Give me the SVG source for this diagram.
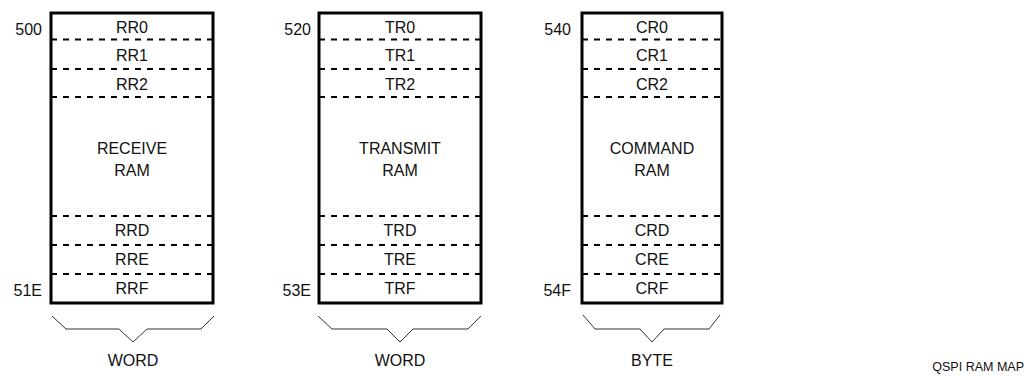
<svg xmlns="http://www.w3.org/2000/svg" width="1030" height="376" viewBox="0 0 1030 376">
<style>
text{font-family:"Liberation Sans",Arial,sans-serif;font-size:16px;fill:#111}
.c{text-anchor:middle}
.a{text-anchor:end}
.box{fill:#fff;stroke:#000;stroke-width:3}
.d{stroke:#000;stroke-width:2;stroke-dasharray:6 6;fill:none}
.br{fill:none;stroke:#333;stroke-width:1}
.t{font-size:12.5px;text-anchor:end}
</style>
<rect width="1030" height="376" fill="#fff"/>
<g id="receive">
<rect class="box" x="51" y="13" width="162" height="290"/>
<path class="d" d="M51 39.5H213M51 69H213M51 97H213M51 216H213M51 245H213M51 274H213"/>
<text class="c" x="132" y="33">RR0</text>
<text class="c" x="132" y="61">RR1</text>
<text class="c" x="132" y="90">RR2</text>
<text class="c" x="132" y="154">RECEIVE</text>
<text class="c" x="132" y="176">RAM</text>
<text class="c" x="132" y="236">RRD</text>
<text class="c" x="132" y="265">RRE</text>
<text class="c" x="132" y="294">RRF</text>
<text class="a" x="42" y="35">500</text>
<text class="a" x="42" y="296">51E</text>
</g>
<g id="transmit">
<rect class="box" x="319" y="13" width="162" height="290"/>
<path class="d" d="M319 39.5H481M319 69H481M319 97H481M319 216H481M319 245H481M319 274H481"/>
<text class="c" x="400" y="33">TR0</text>
<text class="c" x="400" y="61">TR1</text>
<text class="c" x="400" y="90">TR2</text>
<text class="c" x="400" y="154">TRANSMIT</text>
<text class="c" x="400" y="176">RAM</text>
<text class="c" x="400" y="236">TRD</text>
<text class="c" x="400" y="265">TRE</text>
<text class="c" x="400" y="294">TRF</text>
<text class="a" x="311" y="35">520</text>
<text class="a" x="311" y="296">53E</text>
</g>
<g id="command">
<rect class="box" x="582" y="13" width="140" height="290"/>
<path class="d" d="M582 39.5H722M582 69H722M582 97H722M582 216H722M582 245H722M582 274H722"/>
<text class="c" x="652" y="33">CR0</text>
<text class="c" x="652" y="61">CR1</text>
<text class="c" x="652" y="90">CR2</text>
<text class="c" x="652" y="154">COMMAND</text>
<text class="c" x="652" y="176">RAM</text>
<text class="c" x="652" y="236">CRD</text>
<text class="c" x="652" y="265">CRE</text>
<text class="c" x="652" y="294">CRF</text>
<text class="a" x="571" y="35">540</text>
<text class="a" x="571" y="296">54F</text>
</g>
<g id="connectors">
<path class="br" d="M52 316L66 329H119L133 342L147 329H201L214 316"/>
<path class="br" d="M318 316L332 329H387L400 342L413 329H468L481 316"/>
<path class="br" d="M583 315L595 329H640L652 342L664 329H709L720 315"/>
</g>
<text class="c" x="133" y="366">WORD</text>
<text class="c" x="400" y="366">WORD</text>
<text class="c" x="652" y="366">BYTE</text>
<text class="t" x="1024" y="371">QSPI RAM MAP</text>
</svg>
